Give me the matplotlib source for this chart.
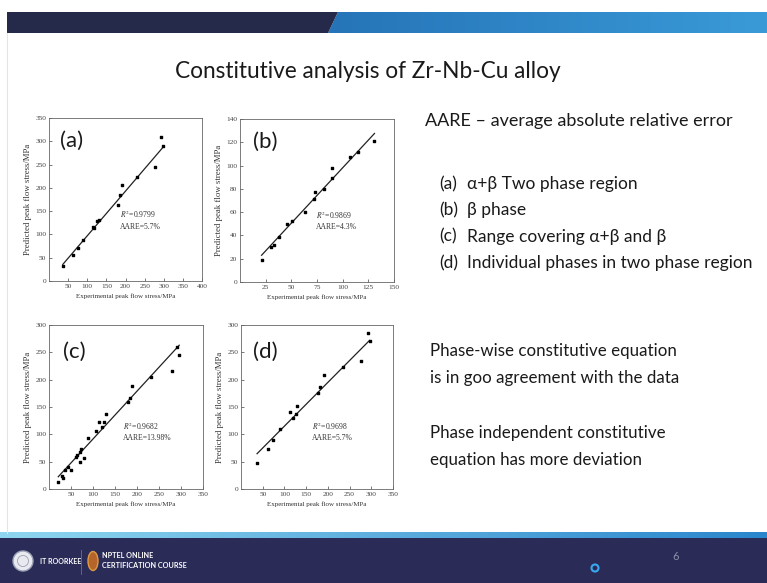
import numpy as np
import matplotlib
matplotlib.use("Agg")
import matplotlib.pyplot as plt
from matplotlib.patches import Polygon, Rectangle, Circle, Ellipse

plt.rcParams['mathtext.fontset'] = 'stix'

# ---- data ----
a_exp = [36, 62, 75, 88, 115, 118, 126, 131, 180, 185, 190, 230, 278, 293, 297]
a_pred = [33, 56, 71, 88, 115, 113, 129, 131, 164, 184, 206, 224, 245, 309, 289]
a_fit = (0.96, 1.0)

b_exp = [21, 30, 33, 38, 46, 51, 63, 72, 73, 82, 89.5, 90, 107, 115, 131]
b_pred = [19, 30, 32, 38.5, 50, 52, 60, 71, 77, 80, 89, 98, 107, 112, 121]
b_fit = (0.951, 3.0)

c_exp = [21, 30, 32, 36, 43, 49, 61, 64, 70, 71, 73, 80, 89, 106, 114, 120, 124, 129,
         179, 183, 189, 231, 279, 292, 296]
c_pred = [12, 23, 20, 35, 41, 35, 59, 62, 50, 68, 73, 57, 94, 107, 123, 113, 123, 137,
          159, 167, 189, 204, 215, 260, 246]
c_fit = (0.875, 4.0)

d_exp = [37, 63, 73, 89, 112, 120, 126, 130, 177, 183, 190, 234, 277, 292, 296]
d_pred = [47, 73, 90, 109, 140, 129, 138, 152, 175, 187, 208, 223, 234, 285, 270]
d_fit = (0.80, 35.0)

r2_text = ['0.9799', '0.9869', '0.9682', '0.9698']
aare_text = ['5.7%', '4.3%', '13.98%', '5.7%']
panel_names = ['(a)', '(b)', '(c)', '(d)']

phase_labels = ['(a)', '(b)', '(c)', '(d)']
phase_texts = ['\u03b1+\u03b2 Two phase region', '\u03b2 phase',
               'Range covering \u03b1+\u03b2 and \u03b2', 'Individual phases in two phase region']

W, H = 767, 583
fig = plt.figure(figsize=(W / 100, H / 100), dpi=100)

# background in pixel coordinates
bg = fig.add_axes([0, 0, 1, 1], zorder=0)
bg.set_xlim(0, W)
bg.set_ylim(H, 0)
bg.axis('off')

sans = ['Liberation Sans Narrow', 'Lato', 'DejaVu Sans']
ink = '#1a1a1a'

# top band
bg.add_patch(Polygon([(7, 12), (338, 12), (328, 33), (7, 33)], closed=True,
                     color='#262a4a', lw=0))
grad = np.linspace(0, 1, 256).reshape(1, -1)
blue = bg.imshow(grad, extent=(328, W, 33, 12), aspect='auto',
                 cmap=matplotlib.colors.LinearSegmentedColormap.from_list('b', ['#2574b8', '#3a9ad8']))
blue.set_clip_path(Polygon([(338, 12), (W, 12), (W, 33), (328, 33)], closed=True,
                           transform=bg.transData))
bg.plot([7, 7], [33, 533], color='#e4e4e4', lw=0.8)

bg.text(368, 72, 'Constitutive analysis of Zr-Nb-Cu alloy', fontsize=16.3,
        family=sans, ha='center', va='center', color=ink)

# right-hand notes
bg.text(425, 121, 'AARE \u2013 average absolute relative error', fontsize=13,
        family=sans, ha='left', va='center', color=ink)
for i, (lab, txt) in enumerate(zip(phase_labels, phase_texts)):
    y = 184 + i * 26.3
    bg.text(439, y, lab, fontsize=12.5, family=sans, ha='left', va='center', color=ink)
    bg.text(467, y, txt, fontsize=12.5, family=sans, ha='left', va='center', color=ink)

notes = ['Phase-wise constitutive equation', 'is in goo agreement with the data',
         'Phase independent constitutive', 'equation has more deviation']
for txt, y in zip(notes, [351, 378, 433, 460]):
    bg.text(430, y, txt, fontsize=12.2, family=sans, ha='left', va='center', color=ink)

# footer
foot = bg.imshow(grad, extent=(0, W, 538, 532), aspect='auto',
                 cmap=matplotlib.colors.LinearSegmentedColormap.from_list('f', ['#8fd6f0', '#2a86cc']))
bg.add_patch(Rectangle((0, 538), W, 45, color='#2a2c57', lw=0))
bg.add_patch(Circle((23, 561), 10, facecolor='#e8eaf0', edgecolor='#9aa0b5', lw=1))
bg.add_patch(Circle((23, 561), 5.5, facecolor='none', edgecolor='#9aa0b5', lw=0.6))
bg.text(40, 561, 'IT ROORKEE', fontsize=5, color='white', fontweight='bold',
        family=sans, ha='left', va='center')
bg.plot([81, 81], [550, 574], color='#6a6d90', lw=0.6)
bg.add_patch(Ellipse((93, 561), 10, 19, facecolor='#b5652a', edgecolor='#e09a45', lw=1))
bg.text(102, 556, 'NPTEL ONLINE', fontsize=5.2, color='white', fontweight='bold',
        family=sans, ha='left', va='center')
bg.text(102, 566, 'CERTIFICATION COURSE', fontsize=5.2, color='white', fontweight='bold',
        family=sans, ha='left', va='center')
bg.add_patch(Circle((595, 568), 3.5, facecolor='#2a2c57', edgecolor='#3aa8f0', lw=1.5))
bg.text(672, 557, '6', fontsize=8, color='#8a8fa8', family=sans, ha='left', va='center')

# ---- scatter panels ----
def px_axes(l, t, r, b):
    return fig.add_axes([l / W, 1 - b / H, (r - l) / W, (b - t) / H], zorder=2)

panels = [
    (px_axes(49, 118, 202, 281), a_exp, a_pred, a_fit, (0, 400), (0, 350),
     np.arange(50, 401, 50), np.arange(0, 351, 50), (185, 131), (0.072, 0.858)),
    (px_axes(240, 119, 394, 282), b_exp, b_pred, b_fit, (0, 150), (0, 140),
     np.arange(25, 151, 25), np.arange(0, 141, 20), (74, 53), (0.082, 0.86)),
    (px_axes(49, 325, 203, 489), c_exp, c_pred, c_fit, (0, 350), (0, 300),
     np.arange(50, 351, 50), np.arange(0, 301, 50), (168, 105), (0.089, 0.837)),
    (px_axes(241, 325, 393, 489), d_exp, d_pred, d_fit, (0, 350), (0, 300),
     np.arange(50, 351, 50), np.arange(0, 301, 50), (164, 105), (0.079, 0.837)),
]

serif = 'Liberation Serif'
for i, (ax, xe, yp, fit, xl, yl, xt, yt, tpos, lpos) in enumerate(panels):
    xe = np.array(xe)
    yp = np.array(yp)
    xs = np.array([xe.min(), xe.max()])
    ax.plot(xs, fit[0] * xs + fit[1], color='#222222', lw=0.9)
    ax.scatter(xe, yp, marker='s', s=4, color='k', zorder=3)
    ax.set_xlim(*xl)
    ax.set_ylim(*yl)
    ax.set_xticks(xt)
    ax.set_yticks(yt)
    ax.tick_params(direction='in', length=2, width=0.5, labelsize=5.3, pad=2,
                   colors='#444444')
    for lab in ax.get_xticklabels() + ax.get_yticklabels():
        lab.set_family(serif)
    for sp in ax.spines.values():
        sp.set_linewidth(0.6)
        sp.set_color('#666666')
    ax.set_xlabel('Experimental peak flow stress/MPa', fontsize=5, family=serif,
                  labelpad=3, color='#333333')
    ax.set_ylabel('Predicted peak flow stress/MPa', fontsize=6.3, family=serif,
                  labelpad=2.5, color='#333333')
    ax.text(tpos[0], tpos[1], r'$\mathit{R}^2$=' + r2_text[i] + '\nAARE=' + aare_text[i],
            fontsize=5.5, family=serif, ha='left', va='center', color='#333333',
            linespacing=1.4)
    ax.text(lpos[0], lpos[1], panel_names[i], transform=ax.transAxes, fontsize=16,
            family=sans, ha='left', va='center', color=ink)

fig.savefig('out.png', dpi=100)
